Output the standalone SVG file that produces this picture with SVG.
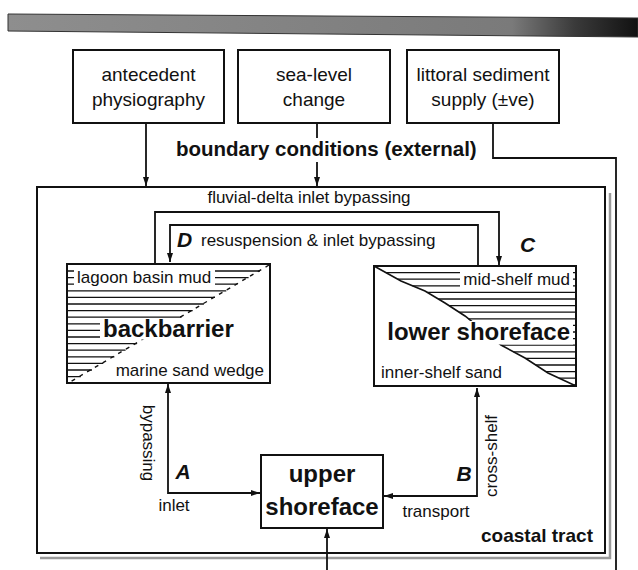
<svg xmlns="http://www.w3.org/2000/svg" width="638" height="570" viewBox="0 0 638 570">
<defs>
<linearGradient id="barg" x1="0" y1="0" x2="1" y2="0">
<stop offset="0" stop-color="#8e8e8e"/>
<stop offset="0.8" stop-color="#7a7a7a"/>
<stop offset="0.9" stop-color="#3a3a3a"/>
<stop offset="1" stop-color="#111"/>
</linearGradient>
<marker id="ah" viewBox="0 0 9 6" refX="9" refY="3" markerWidth="9" markerHeight="6" markerUnits="userSpaceOnUse" orient="auto-start-reverse">
<path d="M0,0 L9,3 L0,6 z" fill="#111"/>
</marker>
<style>
.box{fill:#fff;stroke:#111;stroke-width:2}
.ln{fill:none;stroke:#111;stroke-width:1.8}
.hatch{fill:none;stroke:#111;stroke-width:1.3}
.mask{fill:#fff;stroke:none}
.t{font-family:"Liberation Sans",Arial,Helvetica,sans-serif;fill:#111}
.c{text-anchor:middle}
.r17{font-size:17px}
.r19{font-size:19px}
.b24{font-size:24px;font-weight:bold}
.bi{font-size:21px;font-weight:bold;font-style:italic}
</style>
</defs>
<rect width="638" height="570" fill="#fff"/>

<g id="header-bar">
<polygon points="8,14 638,18 638,37 8,31" fill="url(#barg)" stroke="#333" stroke-width="1"/>
</g>

<g id="coastal-tract">
<path d="M40,558 H610 V193" fill="none" stroke="#9a9a9a" stroke-width="2.5"/>
<rect class="box" x="37" y="187" width="568" height="366"/>
<text class="t" x="537" y="542" style="font-size:19px;font-weight:bold" text-anchor="middle">coastal tract</text>
</g>

<g id="node-antecedent">
<rect class="box" x="73" y="50" width="151" height="73"/>
<text class="t c r19" x="148.5" y="81">antecedent</text>
<text class="t c r19" x="148.5" y="106">physiography</text>
</g>
<g id="node-sealevel">
<rect class="box" x="238" y="50" width="152" height="73"/>
<text class="t c r19" x="314" y="81">sea-level</text>
<text class="t c r19" x="314" y="106">change</text>
</g>
<g id="node-littoral">
<rect class="box" x="407" y="50" width="152" height="73"/>
<text class="t c r19" x="483" y="81">littoral sediment</text>
<text class="t c r19" x="483" y="106">supply (±ve)</text>
</g>

<g id="connectors">
<path class="ln" d="M146,123 V186" marker-end="url(#ah)"/>
<path class="ln" d="M317,123 V138"/>
<path class="ln" d="M317,162 V186" marker-end="url(#ah)"/>
<path class="ln" d="M493,123 V158 H616 V570"/>
<path class="ln" d="M155,263 V212 H499 V265" marker-end="url(#ah)"/>
<path class="ln" d="M478,266 V225 H170 V262" marker-end="url(#ah)"/>
<path class="ln" d="M168,384 V493 H260" marker-start="url(#ah)" marker-end="url(#ah)"/>
<path class="ln" d="M477,388 V496 H384" marker-start="url(#ah)" marker-end="url(#ah)"/>
<path class="ln" d="M327,570 V529" marker-end="url(#ah)"/>
</g>

<g id="labels">
<text class="t" x="176" y="156" style="font-size:20.5px;font-weight:bold">boundary conditions (external)</text>
<text class="t c r17" x="309" y="203">fluvial-delta inlet bypassing</text>
<text class="t bi" x="177" y="247">D</text>
<text class="t r17" x="201" y="246">resuspension &amp; inlet bypassing</text>
<text class="t bi" x="520" y="252">C</text>
<text class="t bi c" x="183" y="479">A</text>
<text class="t bi c" x="464" y="481">B</text>
<text class="t c r17" x="174" y="511">inlet</text>
<text class="t c r17" x="436" y="517">transport</text>
<text class="t c r17" transform="translate(143,443) rotate(90)">bypassing</text>
<text class="t c r17" transform="translate(497,456) rotate(-90)">cross-shelf</text>
</g>

<g id="node-backbarrier">
<rect class="box" x="67" y="264" width="203" height="119"/>
<path class="hatch" d="M67,271H260 M67,277.6H248.6 M67,284.2H237.5 M67,290.8H226.3 M67,297.4H215 M67,304H203.9 M67,310.6H192.7 M67,317.2H181.5 M67,323.8H170.3 M67,330.4H159.2 M67,337H148 M67,343.6H136.8 M67,350.2H125.6 M67,356.8H114.4 M67,363.4H103.2 M67,370H92 M67,376.6H80.8"/>
<path d="M269,265 L70,382" fill="none" stroke="#111" stroke-width="1.4" stroke-dasharray="4 5"/>
<rect class="mask" x="74" y="269" width="141" height="19"/>
<rect class="mask" x="100" y="318.5" width="137" height="21"/>
<text class="t r17" x="77" y="283">lagoon basin mud</text>
<text class="t b24" x="103" y="337">backbarrier</text>
<text class="t r17" x="264" y="376" text-anchor="end">marine sand wedge</text>
</g>

<g id="node-lower-shoreface">
<rect class="box" x="374" y="266" width="202" height="120"/>
<path class="hatch" d="M385.9,272.6H576 M397.8,279.2H576 M412.5,285.8H576 M427.3,292.4H576 M438.3,299H576 M449,305.6H576 M459.2,312.2H576 M468.5,318.8H576 M476.7,325.4H576 M484.9,332H576 M493,338.6H576 M501.4,345.2H576 M513.6,351.8H576 M525.6,358.4H576 M535.7,365H576 M545.9,371.6H576 M559.2,378.2H576 M573.4,384.8H576"/>
<path d="M374,266 L401,281 L425,291 L445,303 L465,316 L501,345 L525,358 L548,373 L576,386" fill="none" stroke="#111" stroke-width="1.6"/>
<rect class="mask" x="460" y="270" width="113" height="19"/>
<rect class="mask" x="384" y="321" width="189" height="23.5"/>
<text class="t r17" x="570" y="285" text-anchor="end">mid-shelf mud</text>
<text class="t b24" x="570" y="340" text-anchor="end">lower shoreface</text>
<text class="t r17" x="381" y="378">inner-shelf sand</text>
</g>

<g id="node-upper-shoreface">
<rect class="box" x="261" y="455" width="122" height="73"/>
<text class="t c b24" x="322" y="482">upper</text>
<text class="t c b24" x="322" y="515">shoreface</text>
</g>
</svg>
